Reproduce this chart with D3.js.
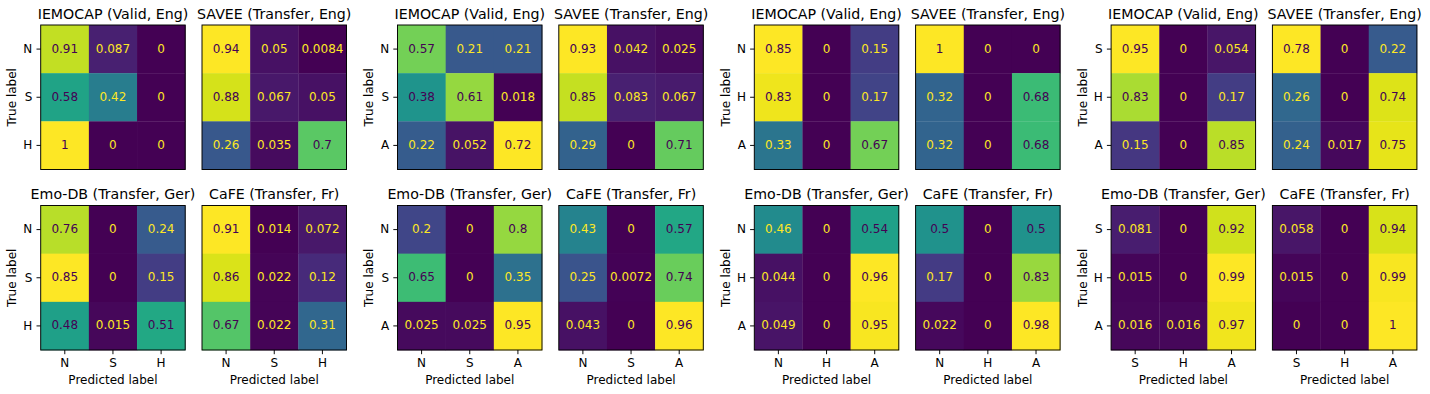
<!DOCTYPE html>
<meta charset="utf-8">
<style>
body { margin: 0; background: #fff; }
svg { display: block; }
.cell-text { font-size: 12px; }
.tick line { stroke: #000; stroke-width: 0.96px; }
</style>
<svg width="1430" height="394"></svg>
<script src="https://cdn.jsdelivr.net/npm/d3@7"></script>
<script>
var FONT = "DejaVu Sans, sans-serif";

var titles = ["IEMOCAP (Valid, Eng)", "SAVEE (Transfer, Eng)", "Emo-DB (Transfer, Ger)", "CaFE (Transfer, Fr)"];

// class order for each of the four groups
var classLabels = [
    ["N", "S", "H"],
    ["N", "S", "A"],
    ["N", "H", "A"],
    ["S", "H", "A"]
];

// one row-normalised confusion matrix per group
var iemocap = [
    [[0.91, 0.087, 0], [0.58, 0.42, 0], [1, 0, 0]],
    [[0.57, 0.21, 0.21], [0.38, 0.61, 0.018], [0.22, 0.052, 0.72]],
    [[0.85, 0, 0.15], [0.83, 0, 0.17], [0.33, 0, 0.67]],
    [[0.95, 0, 0.054], [0.83, 0, 0.17], [0.15, 0, 0.85]]
];
var savee = [
    [[0.94, 0.05, 0.0084], [0.88, 0.067, 0.05], [0.26, 0.035, 0.7]],
    [[0.93, 0.042, 0.025], [0.85, 0.083, 0.067], [0.29, 0, 0.71]],
    [[1, 0, 0], [0.32, 0, 0.68], [0.32, 0, 0.68]],
    [[0.78, 0, 0.22], [0.26, 0, 0.74], [0.24, 0.017, 0.75]]
];
var emodb = [
    [[0.76, 0, 0.24], [0.85, 0, 0.15], [0.48, 0.015, 0.51]],
    [[0.2, 0, 0.8], [0.65, 0, 0.35], [0.025, 0.025, 0.95]],
    [[0.46, 0, 0.54], [0.044, 0, 0.96], [0.049, 0, 0.95]],
    [[0.081, 0, 0.92], [0.015, 0, 0.99], [0.016, 0.016, 0.97]]
];
var cafe = [
    [[0.91, 0.014, 0.072], [0.86, 0.022, 0.12], [0.67, 0.022, 0.31]],
    [[0.43, 0, 0.57], [0.25, 0.0072, 0.74], [0.043, 0, 0.96]],
    [[0.5, 0, 0.5], [0.17, 0, 0.83], [0.022, 0, 0.98]],
    [[0.058, 0, 0.94], [0.015, 0, 0.99], [0, 0, 1]]
];

var datasets = [iemocap, savee, emodb, cafe];

// layout
var size = 144.5;
var firstX = 40.7, groupStep = 356.8, pairStep = 161.3;
var rowY = [25, 205.5];
var tickLen = 4.2, tickPad = 4.2;
var fmt = d3.format(".2~g");

var svg = d3.select("svg");
svg.append("rect").attr("width", 1430).attr("height", 394).attr("fill", "#fff");

for (var g = 0; g < 4; g++) {
    for (var k = 0; k < 4; k++) {
        var col = k % 2, row = Math.floor(k / 2);
        var x0 = firstX + g * groupStep + col * pairStep;
        var y0 = rowY[row];
        drawMatrix(x0, y0, datasets[k][g], classLabels[g], titles[k], col === 0, row === 1);
    }
}

function drawMatrix(x0, y0, cm, labels, title, showY, showX) {
    var flat = [];
    cm.forEach(function(r, i) {
        r.forEach(function(v, j) { flat.push({i: i, j: j, v: v}); });
    });
    var vmin = d3.min(flat, function(d) { return d.v; });
    var vmax = d3.max(flat, function(d) { return d.v; });
    var thresh = (vmin + vmax) / 2;
    var color = d3.scaleSequential(d3.interpolateViridis).domain([vmin, vmax]);

    var x = d3.scaleBand().domain(labels).range([0, size]);
    var y = d3.scaleBand().domain(labels).range([0, size]);

    var G = svg.append("g").attr("transform", "translate(" + x0 + "," + y0 + ")");

    G.selectAll("rect.cell")
        .data(flat)
        .enter().append("rect")
            .attr("class", "cell")
            .attr("x", function(d) { return x(labels[d.j]); })
            .attr("y", function(d) { return y(labels[d.i]); })
            .attr("width", x.bandwidth() + 0.3)
            .attr("height", y.bandwidth() + 0.3)
            .attr("fill", function(d) { return color(d.v); });

    // sklearn style: light text on dark cells, dark text on light ones
    G.selectAll("text.cell-text")
        .data(flat)
        .enter().append("text")
            .attr("class", "cell-text")
            .attr("x", function(d) { return x(labels[d.j]) + x.bandwidth() / 2; })
            .attr("y", function(d) { return y(labels[d.i]) + y.bandwidth() / 2; })
            .attr("dy", "0.29em")
            .attr("text-anchor", "middle")
            .attr("font-family", FONT)
            .attr("fill", function(d) { return d.v < thresh ? d3.interpolateViridis(1) : d3.interpolateViridis(0); })
            .text(function(d) { return fmt(d.v); });

    G.append("rect")
        .attr("width", size)
        .attr("height", size)
        .attr("fill", "none")
        .attr("stroke", "#000")
        .attr("stroke-width", 0.96);

    G.append("text")
        .attr("x", size / 2)
        .attr("y", -6.5)
        .attr("text-anchor", "middle")
        .attr("font-family", FONT)
        .attr("font-size", 14.2)
        .attr("fill", "#000")
        .text(title);

    if (showY) {
        var ya = G.append("g")
            .call(d3.axisLeft(y).tickSize(tickLen).tickPadding(tickPad));
        ya.select(".domain").remove();
        ya.selectAll("text").attr("font-family", FONT).attr("font-size", 12).attr("fill", "#000");

        G.append("text")
            .attr("transform", "translate(-24.3," + size / 2 + ") rotate(-90)")
            .attr("text-anchor", "middle")
            .attr("font-family", FONT)
            .attr("font-size", 12)
            .attr("fill", "#000")
            .text("True label");
    }

    if (showX) {
        var xa = G.append("g")
            .attr("transform", "translate(0," + size + ")")
            .call(d3.axisBottom(x).tickSize(tickLen).tickPadding(tickPad));
        xa.select(".domain").remove();
        xa.selectAll("text").attr("font-family", FONT).attr("font-size", 12).attr("fill", "#000");

        G.append("text")
            .attr("x", size / 2)
            .attr("y", size + 34)
            .attr("text-anchor", "middle")
            .attr("font-family", FONT)
            .attr("font-size", 12)
            .attr("fill", "#000")
            .text("Predicted label");
    }
}
</script>
